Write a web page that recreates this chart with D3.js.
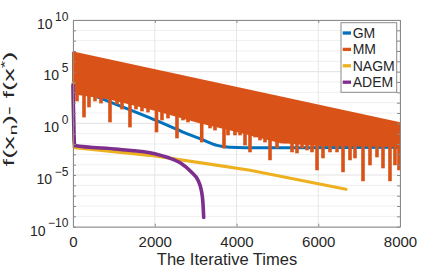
<!DOCTYPE html>
<html>
<head>
<meta charset="utf-8">
<script src="https://cdn.jsdelivr.net/npm/d3@7"></script>
<style>
  body { margin: 0; background: #fff; }
  svg { display: block; font-family: "Liberation Sans", Arial, sans-serif; }
</style>
</head>
<body>
<svg id="chart" width="443" height="270"></svg>
<script>
const seriesNames = ["GM", "MM", "NAGM", "ADEM"];
const seriesColors = ["#0072BD", "#D95319", "#EDB120", "#7E2F8E"];

const xTicks = [0, 2000, 4000, 6000, 8000];
const yTickExp = [-10, -5, 0, 5, 10];
const yDecadeExp = [-10, -9, -8, -7, -6, -5, -4, -3, -2, -1, 0, 1, 2, 3, 4, 5, 6, 7, 8, 9, 10];

// all series values are stored as log10 of f(x_n) - f(x*)
const gmIter = [0, 807, 1884, 2691, 3107, 3523, 3841, 4575, 8000];
const gmLog = [3.5, 2.22, 0.53, -0.84, -1.48, -2.13, -2.32, -2.37, -2.32];

// MM oscillates fast: upper envelope, lower edge of the dense band, and the deep dips
const mmTopIter = [0, 8000];
const mmTopLog = [6.85, 0.0];
const mmLowIter = [0, 900, 2030, 3100, 3960, 5060, 6040, 8000];
const mmLowLog = [2.9, 2.4, 1.3, 0.1, -0.7, -1.8, -2.1, -2.2];
const mmDipIter = [98, 269, 391, 538, 685, 905, 1076, 1199, 1394, 1541, 1688, 1835,
  2043, 2177, 2324, 2544, 2691, 2813, 2936, 3149, 3352, 3474, 3694, 3792, 3963,
  4086, 4208, 4330, 4453, 4575, 4697, 4820, 4991, 5113, 5187, 5358, 5480, 5602,
  5725, 5847, 5970, 6116, 6287, 6459, 6606, 6777, 6899, 7095, 7266, 7437, 7584,
  7755, 7877, 7975];
const mmDipLog = [2.13, 0.58, 1.55, 2.13, 1.93, 0.1, 1.84, 1.35, -0.39, 1.35, 1.16, 1.06,
  -0.87, 0.29, 0.48, -1.45, 0.29, 0.1, 0.29, -1.84, -0.48, -0.68, -2.42, -1.16, -1.16,
  -1.16, -2.13, -2.8, -1.35, -1.64, -1.84, -3.57, -2.42, -1.93, -1.93, -2.8, -2.9, -2.42,
  -2.61, -2.8, -4.54, -3.38, -2.8, -2.8, -4.73, -3.57, -3.38, -5.6, -4.06, -3.29, -4.35,
  -5.6, -4.06, -4.54];

const nagmIter = [0, 25, 49, 1884, 3547, 4330, 6679];
const nagmLog = [3.9, -2.3, -2.35, -3.09, -4.06, -4.54, -6.38];

const ademIter = [0, 40, 1101, 1999, 2324, 2650, 2894, 3058, 3139, 3180, 3198];
const ademLog = [3.7, -2.15, -2.51, -2.93, -3.31, -3.89, -4.71, -5.51, -6.47, -7.76, -9.11];

const svg = d3.select("#chart");
const padL = 73, padR = 400, padT = 20, padB = 226.7;
const axisColor = "#8a8a8a";
const textColor = "#262626";

const x = d3.scaleLinear().domain([0, 8000]).range([padL, padR]);
const y = d3.scaleLog().domain([1e-10, 1e10]).range([padB, padT]);
const pt = (i, l) => [x(i), y(Math.pow(10, l))];

// grid
const grid = svg.append("g");
grid.selectAll(".hg").data(yDecadeExp).join("line")
  .attr("x1", padL).attr("x2", padR)
  .attr("y1", d => y(Math.pow(10, d))).attr("y2", d => y(Math.pow(10, d)))
  .attr("stroke", d => d % 5 === 0 ? "#e2e2e2" : "#efefef")
  .attr("stroke-width", 1);
grid.selectAll(".vg").data(xTicks).join("line")
  .attr("x1", d => x(d)).attr("x2", d => x(d))
  .attr("y1", padT).attr("y2", padB)
  .attr("stroke", "#e6e6e6").attr("stroke-width", 1);

const line = d3.line().curve(d3.curveMonotoneX);
const plot = svg.append("g").attr("fill", "none").attr("stroke-linejoin", "round");

// GM
plot.append("path")
  .attr("d", line(gmIter.map((d, i) => pt(d, gmLog[i]))))
  .attr("stroke", seriesColors[0]).attr("stroke-width", 3);

// MM band
const mmTop = mmTopIter.map((d, i) => pt(d, mmTopLog[i]));
const mmLow = mmLowIter.map((d, i) => pt(d, mmLowLog[i])).reverse();
plot.append("path")
  .attr("d", d3.line()(mmTop.concat(mmLow)) + "Z")
  .attr("fill", seriesColors[1])
  .attr("stroke", seriesColors[1]).attr("stroke-width", 2);
const topAt = d3.scaleLinear().domain(mmTopIter).range(mmTopLog);
plot.selectAll(".dip").data(mmDipIter).join("line")
  .attr("x1", d => x(d)).attr("x2", d => x(d))
  .attr("y1", d => y(Math.pow(10, topAt(d))))
  .attr("y2", (d, i) => y(Math.pow(10, mmDipLog[i])))
  .attr("stroke", seriesColors[1]).attr("stroke-width", 3.6);

// NAGM
plot.append("path")
  .attr("d", d3.line()(nagmIter.map((d, i) => pt(d, nagmLog[i]))))
  .attr("stroke", seriesColors[2]).attr("stroke-width", 3.2).attr("stroke-linecap", "round");

// ADEM
plot.append("path")
  .attr("d", line(ademIter.map((d, i) => pt(d, ademLog[i]))))
  .attr("stroke", seriesColors[3]).attr("stroke-width", 3.6).attr("stroke-linecap", "round");

// axes
const decades = yDecadeExp.map(e => Math.pow(10, e));
const styleAxis = g => {
  g.select(".domain").attr("stroke", axisColor);
  g.selectAll(".tick line").attr("stroke", axisColor);
  g.selectAll("text").attr("fill", textColor);
};

svg.append("g").attr("transform", `translate(0,${padB})`)
  .call(d3.axisBottom(x).tickValues(xTicks).tickFormat(d3.format("d"))
    .tickSize(-3).tickSizeOuter(0).tickPadding(9.3))
  .call(g => g.selectAll("text").attr("font-size", 15).attr("font-family", null))
  .call(styleAxis);
svg.append("g").attr("transform", `translate(0,${padT})`)
  .call(d3.axisTop(x).tickValues(xTicks).tickSize(-3).tickSizeOuter(0).tickFormat(""))
  .call(styleAxis);
svg.append("g").attr("transform", `translate(${padR},0)`)
  .call(d3.axisRight(y).tickValues(decades).tickSize(-3).tickSizeOuter(0).tickFormat(""))
  .call(styleAxis);
svg.append("g").attr("transform", `translate(${padL},0)`)
  .call(d3.axisLeft(y).tickValues(decades).tickSize(-3).tickSizeOuter(0).tickFormat(""))
  .call(styleAxis);

const yAxis = svg.append("g").attr("transform", `translate(${padL},0)`)
  .call(d3.axisLeft(y).tickValues(yTickExp.map(e => Math.pow(10, e))).tickSize(0).tickSizeOuter(0))
  .call(styleAxis);
yAxis.select(".domain").remove();
yAxis.selectAll(".tick text")
  .attr("font-family", null)
  .attr("x", -4.7).attr("y", 8.3).attr("dy", null)
  .text(null)
  .each(function (d) {
    const t = d3.select(this);
    const e = Math.round(Math.log10(d));
    t.append("tspan").attr("font-size", 14).text("10");
    t.append("tspan").attr("font-size", 12).attr("dx", 2.5).attr("dy", -8.3)
      .text(String(e).replace("-", "\u2212"));
  });

// axis labels
svg.append("text")
  .attr("x", 227).attr("y", 265)
  .attr("text-anchor", "middle").attr("font-size", 16.5).attr("fill", textColor)
  .text("The Iterative Times");

// the y label in the reference is drawn stretched along its length
const ylab = svg.append("text")
  .attr("transform", "translate(13.5,109) rotate(-90) scale(1.95,1)")
  .attr("text-anchor", "middle").attr("font-size", 14).attr("fill", textColor);
ylab.append("tspan").text("f(x");
ylab.append("tspan").attr("font-size", 10).attr("dy", 3.5).attr("dx", 0.5).text("n");
ylab.append("tspan").attr("dy", -3.5).text(")- f(x");
ylab.append("tspan").attr("font-size", 10).attr("dy", -5).text("*");
ylab.append("tspan").attr("dy", 5).text(")");

// legend
const legend = svg.append("g");
legend.append("rect")
  .attr("x", 341).attr("y", 22.7).attr("width", 55.7).attr("height", 69.6)
  .attr("fill", "#fff").attr("stroke", axisColor).attr("stroke-width", 1);
const item = legend.selectAll(".item").data(seriesNames).join("g")
  .attr("transform", (d, i) => `translate(0,${33 + i * 16.4})`);
item.append("line")
  .attr("x1", 342.7).attr("x2", 351)
  .attr("stroke", (d, i) => seriesColors[i]).attr("stroke-width", 3.3);
item.append("text")
  .attr("x", 352.7).attr("dy", "0.35em")
  .attr("font-size", 14).attr("fill", textColor)
  .text(d => d);
</script>
</body>
</html>
